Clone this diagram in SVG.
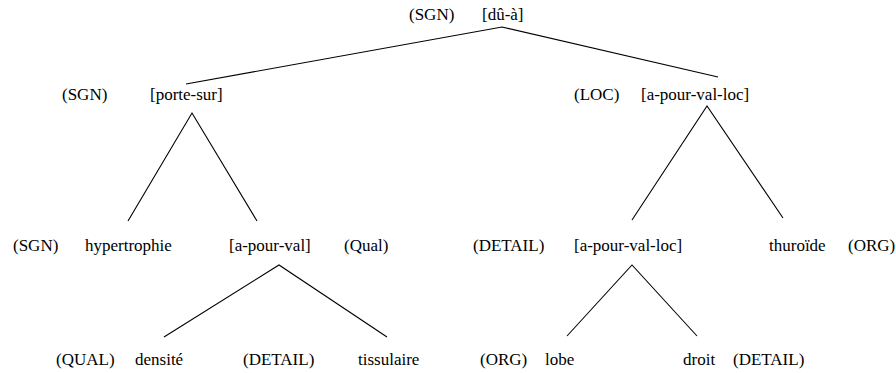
<svg xmlns="http://www.w3.org/2000/svg" width="896" height="373" viewBox="0 0 896 373">
<style>
text { font-family: "Liberation Serif", "DejaVu Serif", serif; font-size: 17px; fill: #000; }
.edge { stroke: #000; stroke-width: 1.1; fill: none; }
</style>
<rect width="896" height="373" fill="#fff"/>
<g id="connectors">
<polyline class="edge" points="186,84 502,27 718,77"/>
<polyline class="edge" points="128,221 192,113 257,221"/>
<polyline class="edge" points="632,220 707,106 783,218"/>
<polyline class="edge" points="164,337 279,265 387,337"/>
<polyline class="edge" points="567,336 632,265 697,336"/>
</g>
<g id="n_root"><text x="409" y="20">(SGN)</text><text x="482" y="20">[dû-à]</text></g>
<g id="n_portesur"><text x="62" y="100">(SGN)</text><text x="150" y="100">[porte-sur]</text></g>
<g id="n_loc"><text x="574" y="100">(LOC)</text><text x="641" y="100">[a-pour-val-loc]</text></g>
<g id="n_hypertrophie"><text x="13" y="251">(SGN)</text><text x="85" y="251">hypertrophie</text></g>
<g id="n_apourval"><text x="229" y="251">[a-pour-val]</text><text x="344" y="251">(Qual)</text></g>
<g id="n_apourvalloc"><text x="473" y="251">(DETAIL)</text><text x="574" y="251">[a-pour-val-loc]</text></g>
<g id="n_thuroide"><text x="769" y="251">thuroïde</text><text x="848" y="251">(ORG)</text></g>
<g id="n_densite"><text x="56" y="365">(QUAL)</text><text x="135" y="365">densité</text></g>
<g id="n_tissulaire"><text x="243" y="365">(DETAIL)</text><text x="358" y="365">tissulaire</text></g>
<g id="n_lobe"><text x="480" y="365">(ORG)</text><text x="545" y="365">lobe</text></g>
<g id="n_droit"><text x="683" y="365">droit</text><text x="733" y="365">(DETAIL)</text></g>
</svg>
